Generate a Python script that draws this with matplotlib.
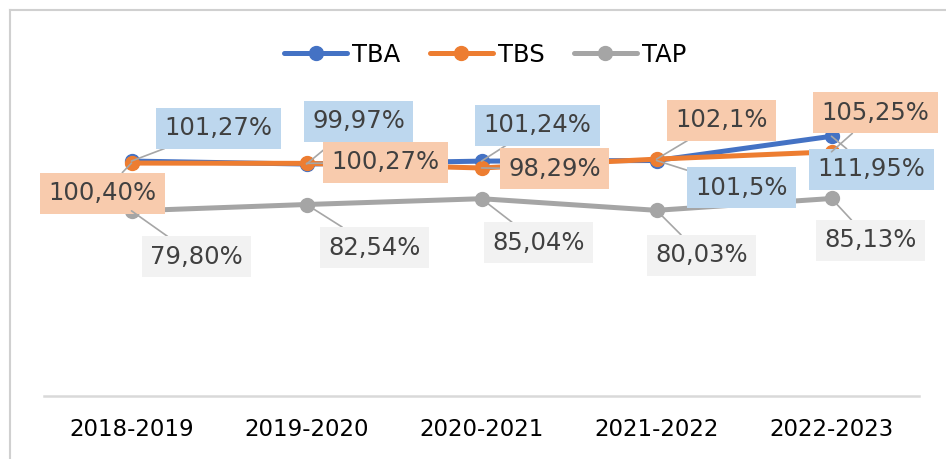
import numpy as np
import matplotlib.pyplot as plt
from matplotlib.lines import Line2D

# data
years = ['2018-2019', '2019-2020', '2020-2021', '2021-2022', '2022-2023']
tba = [101.27, 99.97, 101.24, 101.5, 111.95]
tbs = [100.40, 100.27, 98.29, 102.1, 105.25]
tap = [79.80, 82.54, 85.04, 80.03, 85.13]
tba_lbl = ['101,27%', '99,97%', '101,24%', '101,5%', '111,95%']
tbs_lbl = ['100,40%', '100,27%', '98,29%', '102,1%', '105,25%']
tap_lbl = ['79,80%', '82,54%', '85,04%', '80,03%', '85,13%']

plt.rcParams['font.family'] = ['DejaVu Sans']

fig = plt.figure(figsize=(9.46, 4.59), dpi=100)
ax = fig.add_axes([44/946, 63/459, 875/946, 348/459])

x = np.arange(len(years))
series = [
    (tba, tba_lbl, '#4472c4', '#bdd7ee', 'TBA',
     [(87, 33), (52, 43), (56, 36), (85, -27), (40, -33)]),
    (tbs, tbs_lbl, '#ed7d31', '#f8cbad', 'TBS',
     [(-29, -30), (79, 1), (73, -1), (65, 39), (44, 39)]),
    (tap, tap_lbl, '#a5a5a5', '#f2f2f2', 'TAP',
     [(65, -46), (68, -43), (57, -44), (45, -45), (39, -42)]),
]

for vals, lbls, col, box, name, offs in series:
    ax.plot(x, vals, color=col, lw=3.6, marker='o', ms=10, label=name,
            solid_capstyle='round', zorder=3)

for vals, lbls, col, box, name, offs in series:
    for i in range(len(vals)):
        ax.annotate(lbls[i], (x[i], vals[i]), xytext=offs[i],
                    textcoords='offset pixels', ha='center', va='center',
                    fontsize=17.5, color='#404040', zorder=5,
                    bbox=dict(boxstyle='square,pad=0.35', fc=box, ec='none'),
                    arrowprops=dict(arrowstyle='-', color='#a6a6a6', lw=1.2,
                                    shrinkA=0, shrinkB=0))

ax.set_xlim(-0.5, 4.5)
ax.set_ylim(0, 150)
ax.set_xticks(x)
ax.set_xticklabels(years, fontsize=16.5)
ax.tick_params(axis='x', length=0, pad=16, colors='black')
ax.set_yticks([])
for s in ['top', 'left', 'right']:
    ax.spines[s].set_visible(False)
ax.spines['bottom'].set_color('#d9d9d9')
ax.spines['bottom'].set_linewidth(1.8)

leg = ax.legend(loc='center', bbox_to_anchor=(485/946, 1 - 55/459),
                bbox_transform=fig.transFigure, ncol=3, frameon=False,
                fontsize=17.5, handlelength=2.6, columnspacing=1.2,
                handletextpad=0.2)

# outer chart border (top and left)
fig.add_artist(Line2D([10/946, 1], [1 - 10/459, 1 - 10/459],
                      color='#d0d0d0', lw=1.5, transform=fig.transFigure))
fig.add_artist(Line2D([10/946, 10/946], [0, 1 - 10/459],
                      color='#d0d0d0', lw=1.5, transform=fig.transFigure))

fig.savefig('out.png', dpi=100)
